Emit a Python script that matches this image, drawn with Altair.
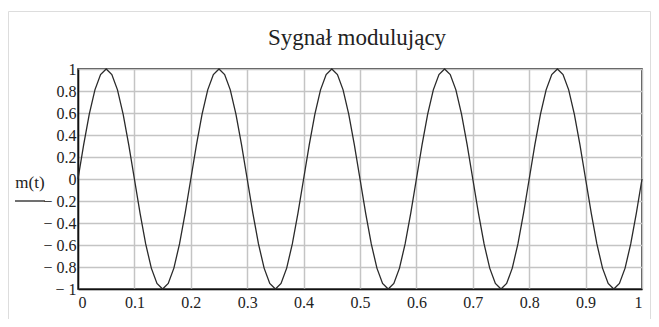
import altair as alt
import pandas as pd

t_vals = [round(i * 0.01, 2) for i in range(101)]
m_vals = [
    0, 0.31, 0.59, 0.81, 0.95, 1, 0.95, 0.81, 0.59, 0.31,
    0, -0.31, -0.59, -0.81, -0.95, -1, -0.95, -0.81, -0.59, -0.31,
    0, 0.31, 0.59, 0.81, 0.95, 1, 0.95, 0.81, 0.59, 0.31,
    0, -0.31, -0.59, -0.81, -0.95, -1, -0.95, -0.81, -0.59, -0.31,
    0, 0.31, 0.59, 0.81, 0.95, 1, 0.95, 0.81, 0.59, 0.31,
    0, -0.31, -0.59, -0.81, -0.95, -1, -0.95, -0.81, -0.59, -0.31,
    0, 0.31, 0.59, 0.81, 0.95, 1, 0.95, 0.81, 0.59, 0.31,
    0, -0.31, -0.59, -0.81, -0.95, -1, -0.95, -0.81, -0.59, -0.31,
    0, 0.31, 0.59, 0.81, 0.95, 1, 0.95, 0.81, 0.59, 0.31,
    0, -0.31, -0.59, -0.81, -0.95, -1, -0.95, -0.81, -0.59, -0.31,
    0,
]
x_ticks = [0, 0.1, 0.2, 0.3, 0.4, 0.5, 0.6, 0.7, 0.8, 0.9, 1]
y_ticks = [-1, -0.8, -0.6, -0.4, -0.2, 0, 0.2, 0.4, 0.6, 0.8, 1]
title_text = "Sygnał modulujący"
y_label = "m(t)"

df = pd.DataFrame({"t": t_vals, "m": m_vals})
one = pd.DataFrame({"k": [0]})
FONT = "Liberation Serif"

line = alt.Chart(df).mark_line(color="#2a2a2a", strokeWidth=1.3).encode(
    x=alt.X("t:Q", scale=alt.Scale(domain=[0, 1], nice=False),
            axis=alt.Axis(values=x_ticks, title=None, grid=True,
                          labelExpr="format(datum.value, '~g')",
                          labelPadding=5, ticks=False)),
    y=alt.Y("m:Q", scale=alt.Scale(domain=[-1, 1], nice=False),
            axis=alt.Axis(values=y_ticks, title=None, grid=True,
                          labelExpr="datum.value < 0 ? '\u2212 ' + format(-datum.value, '~g') : format(datum.value, '~g')",
                          labelPadding=2, ticks=False)),
)

title = alt.Chart(one).mark_text(font=FONT, fontSize=23, color="#222222",
                                 baseline="alphabetic", align="center").encode(
    x=alt.value(279), y=alt.value(-24), text=alt.value(title_text)
)
ylab = alt.Chart(one).mark_text(font=FONT, fontSize=17, color="#222222", baseline="alphabetic").encode(
    x=alt.value(-48), y=alt.value(119), text=alt.value(y_label)
)
underline = alt.Chart(one).mark_rule(color="#222222", strokeWidth=1.3).encode(
    x=alt.value(-63), x2=alt.value(-33), y=alt.value(132)
)
frame = alt.Chart(one).mark_rect(fill=None, stroke="#dddddd", strokeWidth=1).encode(
    x=alt.value(-69.5), x2=alt.value(572.5), y=alt.value(-57.5), y2=alt.value(262)
)

chart = alt.layer(frame, line, title, ylab, underline).properties(
    width=564, height=220,
    autosize=alt.AutoSizeParams(type="none"),
    padding={"left": 70, "top": 61, "right": 9, "bottom": 30},
).configure_view(stroke="#111111", strokeWidth=1.5).configure_axis(
    labelFont=FONT, labelFontSize=16, labelColor="#222222",
    gridColor="#c4c4c4", gridWidth=1.5, gridOpacity=1,
    domainColor="#111111", domainWidth=1.5,
)

chart.save("out.html", embed_options={"renderer": "svg", "actions": False})
